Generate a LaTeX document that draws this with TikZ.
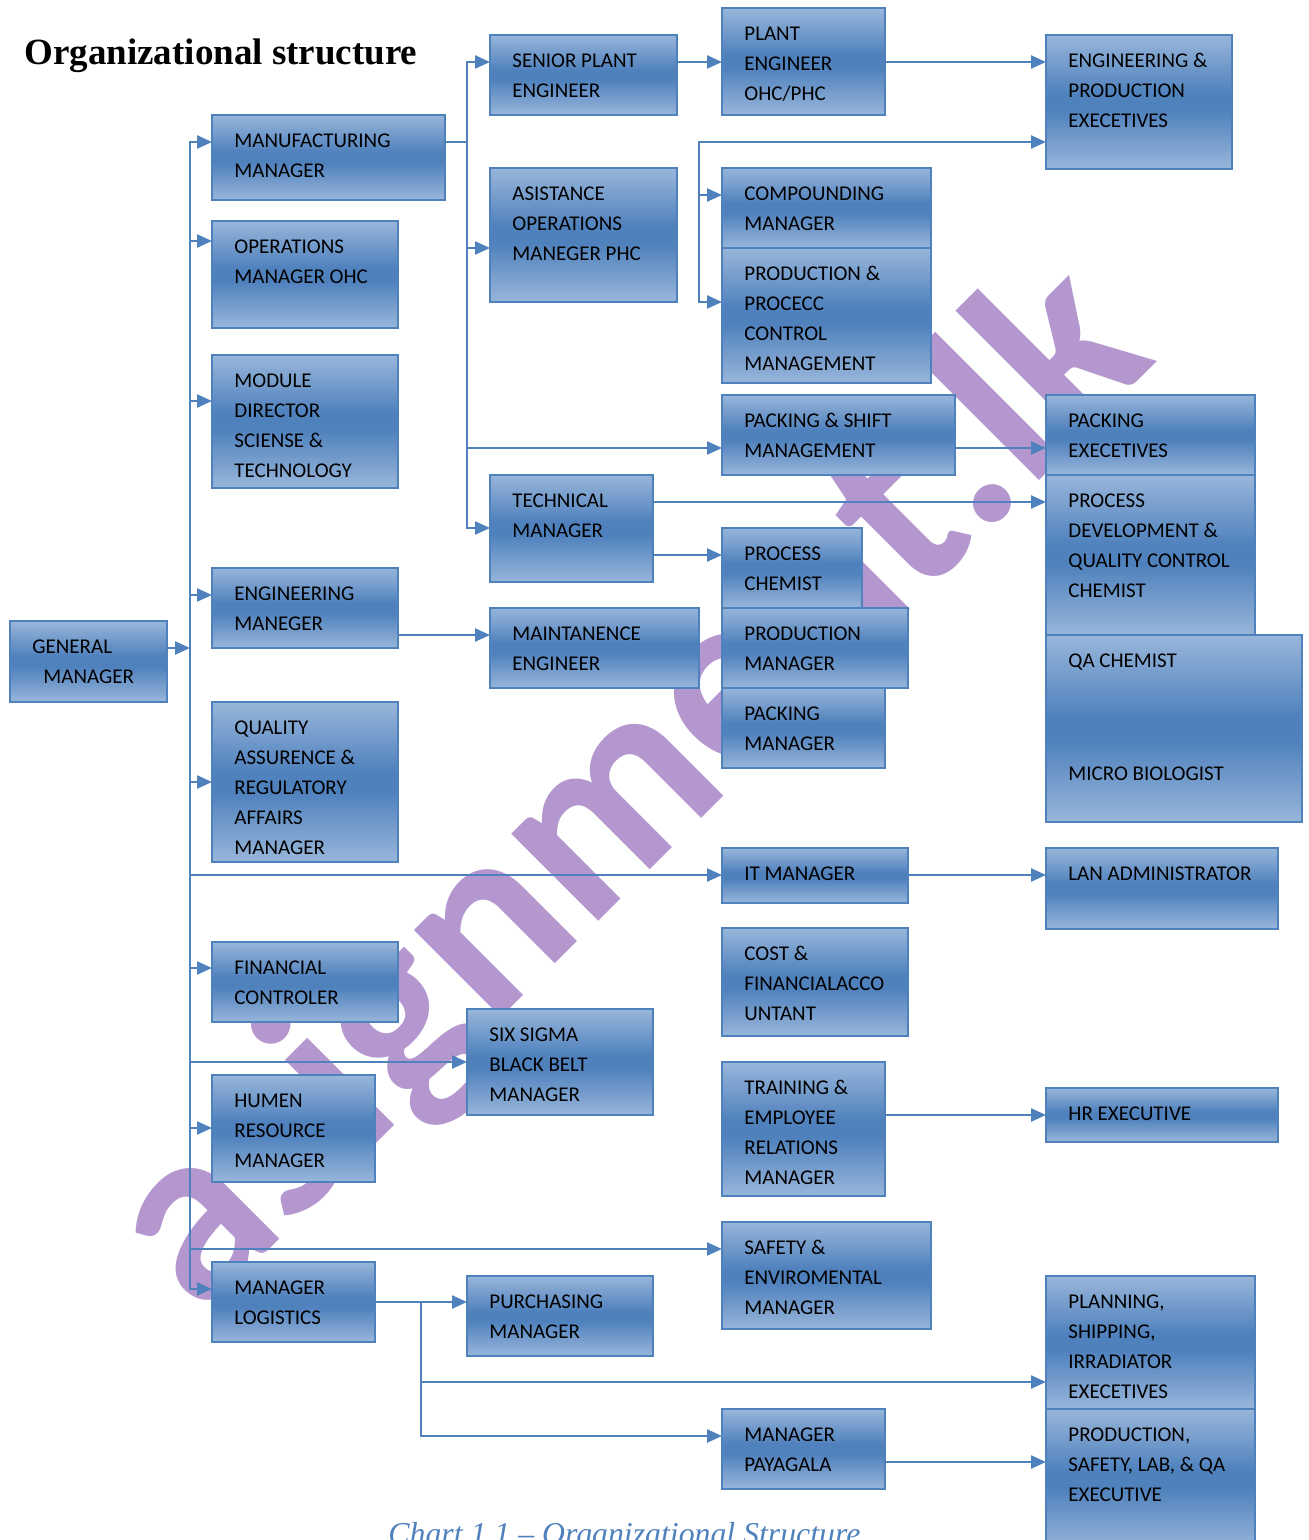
\documentclass[tikz,border=0pt]{standalone}
\usepackage{fontspec}
\setmainfont{Carlito}
\newfontfamily\titlefont{Liberation Serif}
\usetikzlibrary{arrows.meta,calc}
\definecolor{bx}{HTML}{4F81BD}
\definecolor{bxl}{HTML}{98B6DA}
\definecolor{wm}{HTML}{B497CF}
\pgfdeclareverticalshading{boxsh}{100bp}{color(0bp)=(bxl); color(25bp)=(bxl); color(47bp)=(bx); color(53bp)=(bx); color(75bp)=(bxl); color(100bp)=(bxl)}
\tikzset{
  box/.style={draw=bx, line width=1.2pt, shading=boxsh, rectangle, inner sep=0pt, outer sep=0pt, anchor=north west},
  btxt/.style={font=\fontsize{10.5}{15}\selectfont, align=left, inner sep=0pt, anchor=north west, text=black},
  ln/.style={draw=bx, line width=1.2pt},
  arr/.style={ln, -{Triangle[length=7.5pt,width=6.5pt]}}
}
\newcommand\bx[6]{%
  \node[box, minimum width={(#4-#2)*0.5pt}, minimum height={(#5-#3)*0.5pt}] (#1) at (#2,#3) {};
  \node[btxt] (#1-t) at (#2+22,#3+17.7) {\rule{0pt}{7pt}#6};
}
\begin{document}
\begin{tikzpicture}[x=0.5pt,y=-0.5pt]
\useasboundingbox (0,0) rectangle (1308,1540);
% watermark
\node[font=\bfseries\fontsize{127}{127}\selectfont, text=wm, rotate=45, inner sep=0pt] (wmk) at (632,792) {asignment.lk};
% title and caption
\node[font=\titlefont\bfseries\fontsize{18.5}{22}\selectfont, anchor=base west, inner sep=0pt] (title) at (24,65) {Organizational structure};
\node[font=\titlefont\itshape\fontsize{15.9}{19}\selectfont, text=bx, anchor=base west, inner sep=0pt] (caption) at (388,1544) {Chart 1.1 – Organizational Structure};
% boxes
\bx{gm}{10}{621}{167}{702}{GENERAL\\\hspace*{5.5pt}MANAGER}
\bx{mfg}{212}{115}{445}{200}{MANUFACTURING\\MANAGER}
\bx{ops}{212}{221}{398}{328}{OPERATIONS\\MANAGER OHC}
\bx{mod}{212}{355}{398}{488}{MODULE\\DIRECTOR\\SCIENSE \&\\TECHNOLOGY}
\bx{eng}{212}{568}{398}{648}{ENGINEERING\\MANEGER}
\bx{qa}{212}{702}{398}{862}{QUALITY\\ASSURENCE \&\\REGULATORY\\AFFAIRS\\MANAGER}
\bx{fin}{212}{942}{398}{1022}{FINANCIAL\\CONTROLER}
\bx{hr}{212}{1075}{375}{1182}{HUMEN\\RESOURCE\\MANAGER}
\bx{log}{212}{1262}{375}{1342}{MANAGER\\LOGISTICS}
\bx{sr}{490}{35}{677}{115}{SENIOR PLANT\\ENGINEER}
\bx{asist}{490}{168}{677}{302}{ASISTANCE\\OPERATIONS\\MANEGER PHC}
\bx{tech}{490}{475}{653}{582}{TECHNICAL\\MANAGER}
\bx{maint}{490}{608}{699}{688}{MAINTANENCE\\ENGINEER}
\bx{six}{467}{1009}{653}{1115}{SIX SIGMA\\BLACK BELT\\MANAGER}
\bx{purch}{467}{1276}{653}{1356}{PURCHASING\\MANAGER}
\bx{plant}{722}{8}{885}{115}{PLANT\\ENGINEER\\OHC/PHC}
\bx{comp}{722}{168}{931}{248}{COMPOUNDING\\MANAGER}
\bx{prod}{722}{248}{931}{383}{PRODUCTION \&\\PROCECC\\CONTROL\\MANAGEMENT}
\bx{pack}{722}{395}{955}{475}{PACKING \& SHIFT\\MANAGEMENT}
\bx{pchem}{722}{528}{862}{608}{PROCESS\\CHEMIST}
\bx{prodm}{722}{608}{908}{688}{PRODUCTION\\MANAGER}
\bx{packm}{722}{688}{885}{768}{PACKING\\MANAGER}
\bx{it}{722}{848}{908}{903}{IT MANAGER}
\bx{cost}{722}{928}{908}{1036}{COST \&\\FINANCIALACCO\\UNTANT}
\bx{train}{722}{1062}{885}{1196}{TRAINING \&\\EMPLOYEE\\RELATIONS\\MANAGER}
\bx{safety}{722}{1222}{931}{1329}{SAFETY \&\\ENVIROMENTAL\\MANAGER}
\bx{pay}{722}{1409}{885}{1489}{MANAGER\\PAYAGALA}
\bx{epx}{1046}{35}{1232}{169}{ENGINEERING \&\\PRODUCTION\\EXECETIVES}
\bx{pex}{1046}{395}{1255}{475}{PACKING\\EXECETIVES}
\bx{pdev}{1046}{475}{1255}{635}{PROCESS\\DEVELOPMENT \&\\QUALITY CONTROL\\CHEMIST}
\bx{qac}{1046}{635}{1302}{822}{QA CHEMIST\\[41.5pt]MICRO BIOLOGIST}
\bx{lan}{1046}{848}{1278}{929}{LAN ADMINISTRATOR}
\bx{hrx}{1046}{1088}{1278}{1142}{HR EXECUTIVE}
\bx{plan}{1046}{1276}{1255}{1409}{PLANNING,\\SHIPPING,\\IRRADIATOR\\EXECETIVES}
\bx{psx}{1046}{1409}{1255}{1550}{PRODUCTION,\\SAFETY, LAB, \& QA\\EXECUTIVE}
% junction coordinates
\foreach \y in {142,241,401,595,648,782,875,968,1062,1128,1249,1289} {\coordinate (j\y) at (190,\y);}
\foreach \y in {62,142,248,448,528} {\coordinate (m\y) at (467,\y);}
\foreach \y in {142,195,302} {\coordinate (b\y) at (699,\y);}
\foreach \y in {1302,1382,1436} {\coordinate (l\y) at (421,\y);}
% main trunk
\draw[arr] (gm.east |- j648) -- (j648);
\draw[arr] (j241) -- (j142) -- (j142 -| mfg.west);
\draw[arr] (j241) -- (j1289) -- (j1289 -| log.west);
\foreach \y/\n in {241/ops,401/mod,595/eng,782/qa,875/it,968/fin,1062/six,1128/hr,1249/safety}
  {\draw[arr] (j\y) -- (j\y -| \n.west);}
% manufacturing branch
\draw[ln] (mfg.east |- m142) -- (m142);
\draw[arr] (m142) -- (m62) -- (m62 -| sr.west);
\draw[arr] (m142) -- (m528) -- (m528 -| tech.west);
\draw[arr] (m248) -- (m248 -| asist.west);
\draw[arr] (m448) -- (m448 -| pack.west);
\draw[arr] (sr.east |- m62) -- (plant.west |- m62);
\draw[arr] (plant.east |- m62) -- (epx.west |- m62);
% bracket
\draw[arr] (b195) -- (b142) -- (b142 -| epx.west);
\draw[arr] (b195) -- (b302) -- (b302 -| prod.west);
\draw[arr] (b195) -- (b195 -| comp.west);
% other links
\coordinate (y448) at (0,448);
\coordinate (y502) at (0,502);
\coordinate (y555) at (0,555);
\coordinate (y635) at (0,635);
\coordinate (y1115) at (0,1115);
\coordinate (y1462) at (0,1462);
\draw[arr] (pack.east |- y448) -- (pex.west |- y448);
\draw[arr] (tech.east |- y502) -- (pdev.west |- y502);
\draw[arr] (tech.east |- y555) -- (pchem.west |- y555);
\draw[arr] (eng.east |- y635) -- (maint.west |- y635);
\draw[arr] (it.east |- j875) -- (lan.west |- j875);
\draw[arr] (train.east |- y1115) -- (hrx.west |- y1115);
% logistics
\draw[arr] (log.east |- l1302) -- (purch.west |- l1302);
\draw[arr] (l1302) -- (l1436) -- (l1436 -| pay.west);
\draw[arr] (l1382) -- (l1382 -| plan.west);
\draw[arr] (pay.east |- y1462) -- (psx.west |- y1462);
\end{tikzpicture}
\end{document}
